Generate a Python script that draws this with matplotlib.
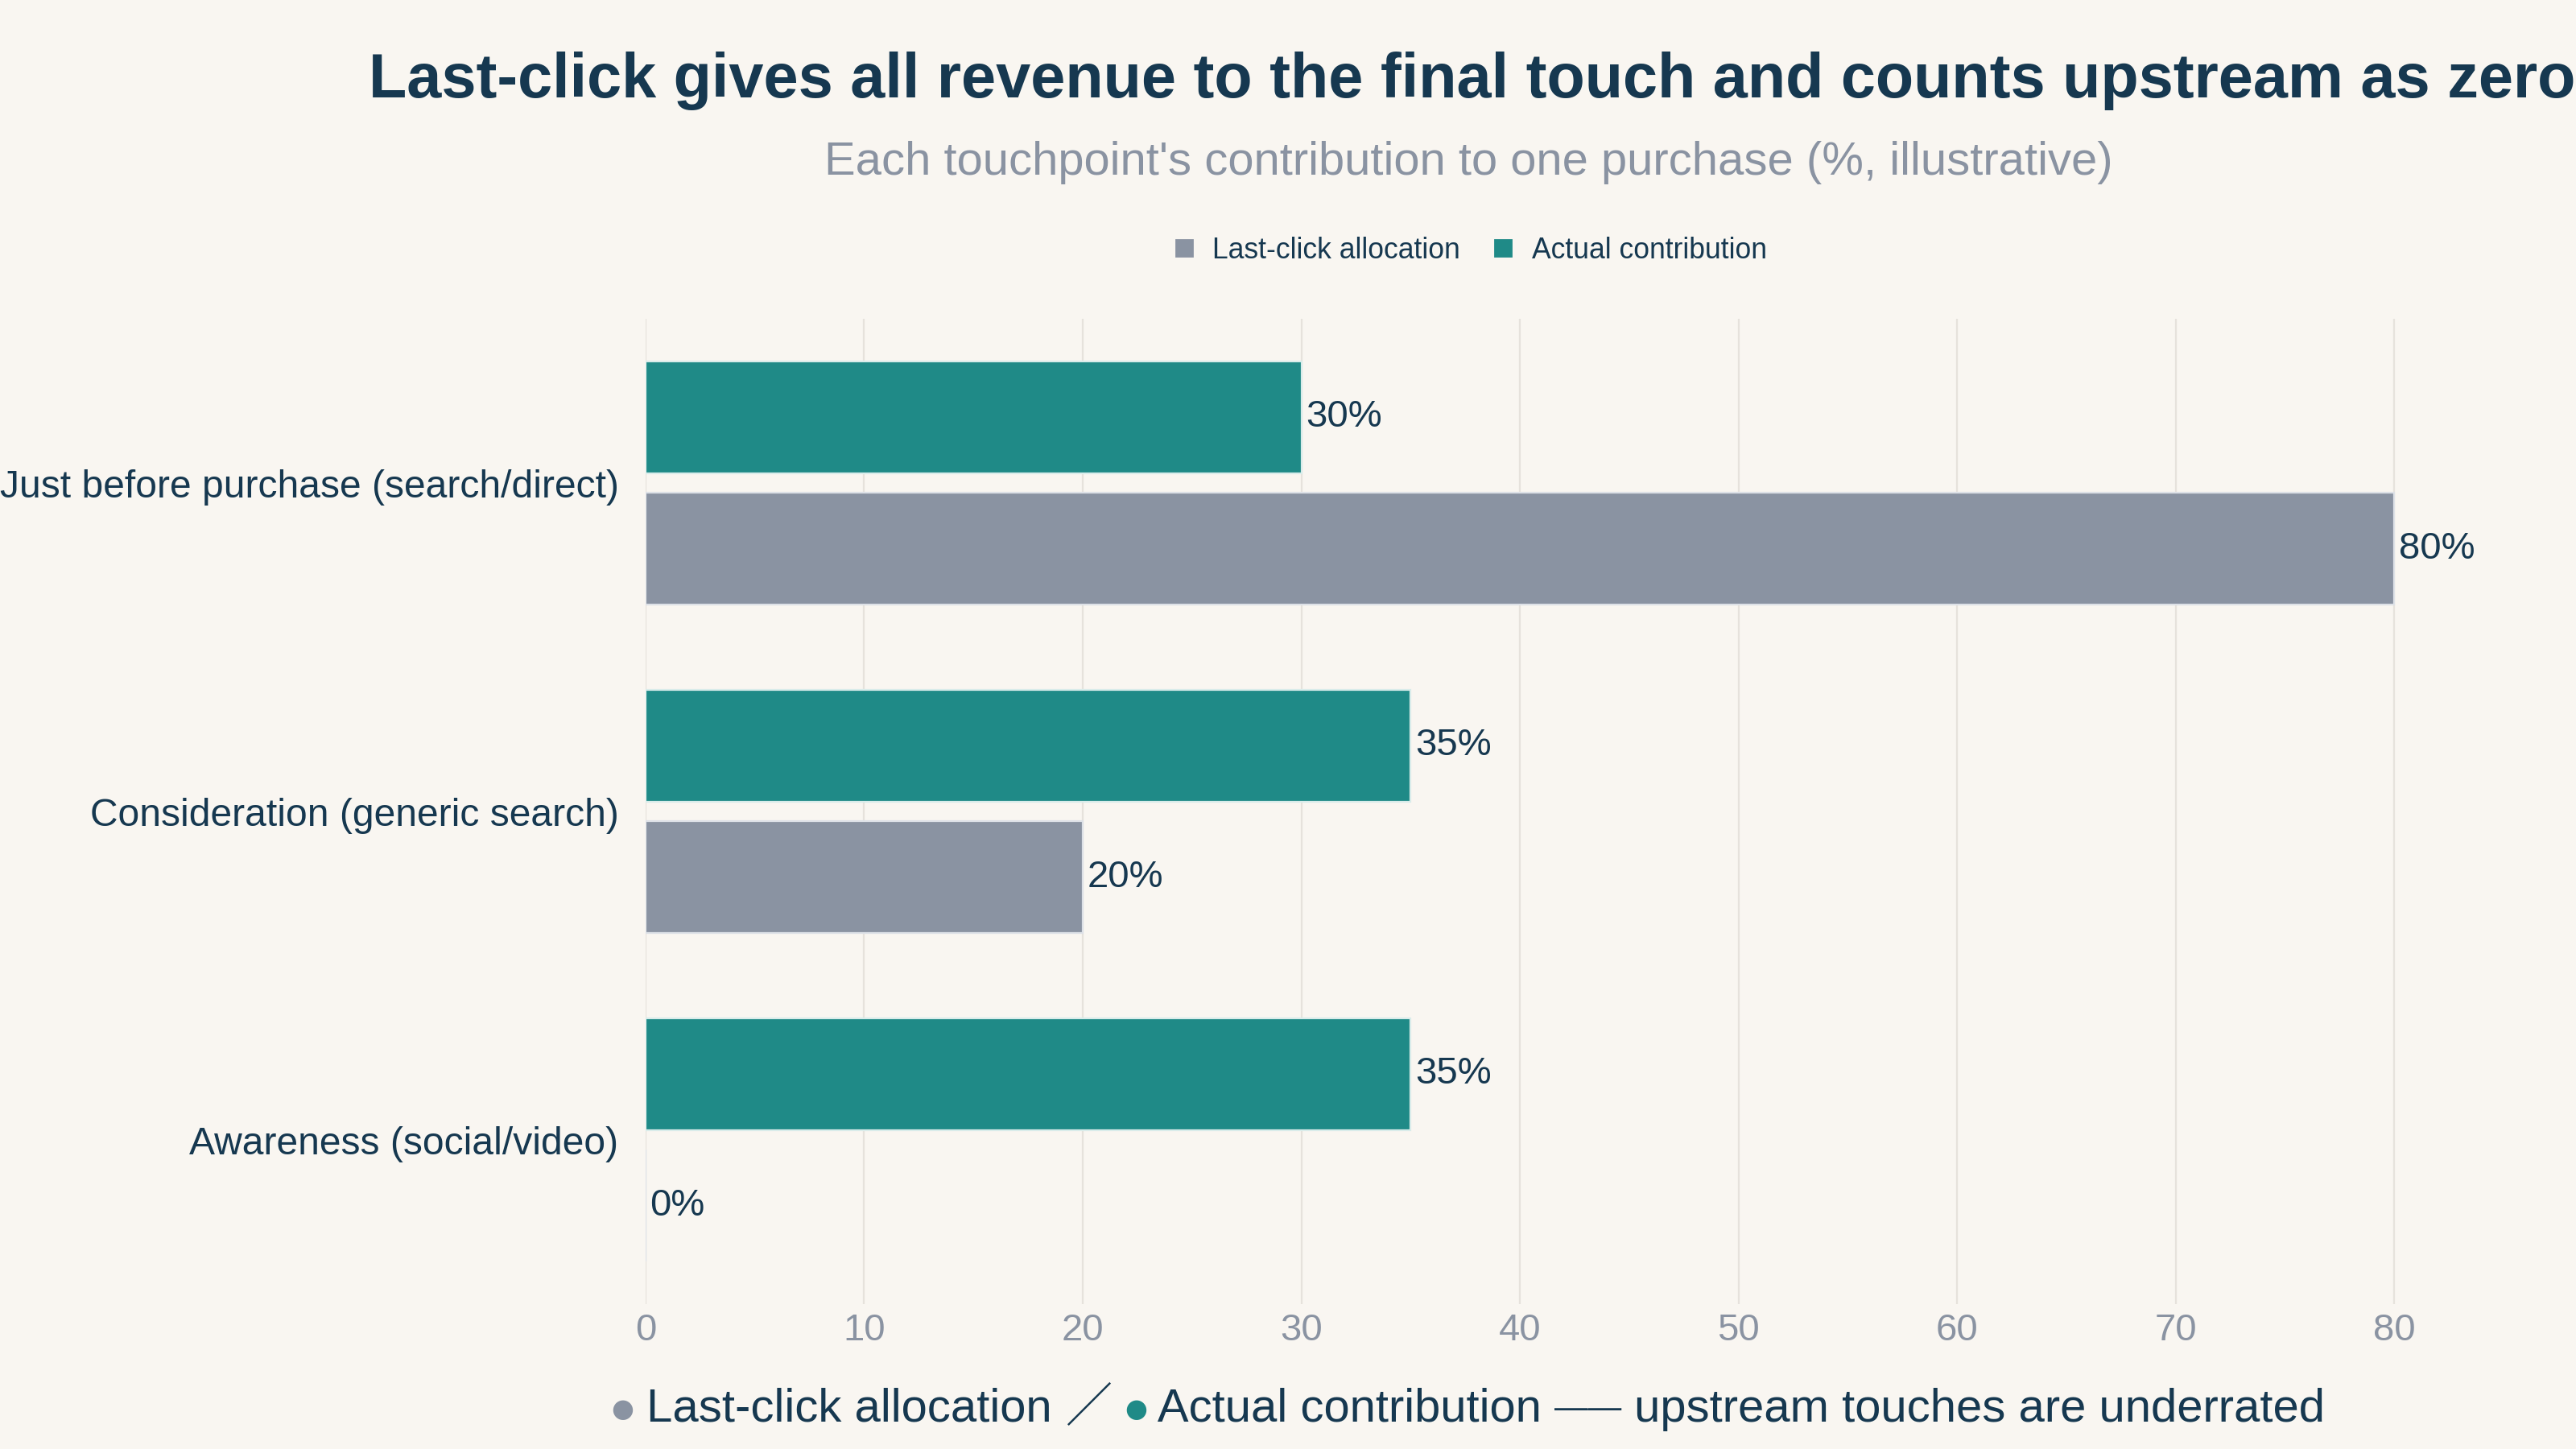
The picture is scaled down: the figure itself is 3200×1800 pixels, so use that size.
import matplotlib
matplotlib.use("Agg")
import matplotlib.pyplot as plt
import numpy as np
from matplotlib.lines import Line2D

# ============================================================
# 数据
# ============================================================
stages = ["Just before purchase (search/direct)",
          "Consideration (generic search)",
          "Awareness (social/video)"]
last_click = [80, 20, 0]
actual = [30, 35, 35]
x_ticks = [0, 10, 20, 30, 40, 50, 60, 70, 80]

TITLE = "Last-click gives all revenue to the final touch and counts upstream as zero"
SUBTITLE = "Each touchpoint's contribution to one purchase (%, illustrative)"

# ============================================================
# 样式
# ============================================================
BG = "#f9f6f1"
NAVY = "#163850"
GREY = "#8a93a2"
TEAL = "#1f8a87"
GRID = "#e6e2dc"
FONT = ["Liberation Sans", "DejaVu Sans"]

plt.rcParams["font.family"] = FONT

fig = plt.figure(figsize=(16, 9), dpi=200, facecolor=BG)
ax = fig.add_axes([0.2506, 0.10, 0.7128, 0.68], facecolor=BG)

y = np.arange(len(stages))
bar_h = 0.34
off = 0.2

b_act = ax.barh(y - off, actual, height=bar_h, color=TEAL,
                edgecolor="#d9ecea", linewidth=0.8, label="Actual contribution", zorder=3)
b_last = ax.barh(y + off, last_click, height=bar_h, color=GREY,
                 edgecolor="#dde1e7", linewidth=0.8, label="Last-click allocation", zorder=3)

for bars in (b_act, b_last):
    ax.bar_label(bars, labels=[f"{int(v)}%" for v in bars.datavalues],
                 padding=2, fontsize=17, color=NAVY)

ax.set_ylim(len(stages) - 0.5, -0.5)
ax.set_xlim(0, 84)
ax.set_yticks(y)
ax.set_yticklabels(stages, fontsize=17.3, color=NAVY)
ax.set_xticks(x_ticks)
ax.set_xticklabels([str(t) for t in x_ticks], fontsize=17, color=GREY)
ax.tick_params(axis="both", length=0)
ax.tick_params(axis="y", pad=12)
ax.tick_params(axis="x", pad=4)
ax.grid(axis="x", color=GRID, linewidth=0.8, zorder=0)
for s in ax.spines.values():
    s.set_visible(False)

# 标题
CX = 0.570
fig.text(0.5715, 0.944, TITLE, ha="center", va="center", fontsize=27.9,
         fontweight="bold", color=NAVY)
fig.text(CX, 0.888, SUBTITLE, ha="center", va="center", fontsize=20.9, color=GREY)

# 顶部图例
handles = [Line2D([], [], marker="s", linestyle="none", markersize=7.5, color=GREY),
           Line2D([], [], marker="s", linestyle="none", markersize=7.5, color=TEAL)]
fig.legend(handles, ["Last-click allocation", "Actual contribution"],
           loc="center", bbox_to_anchor=(CX, 0.827), ncol=2, frameon=False,
           fontsize=12.8, labelcolor=NAVY, handletextpad=0.5, columnspacing=1.0,
           handlelength=1.0)

# 底部注释（分段拼接，彩色圆点）
BASE_Y = 0.019
fam = ["Liberation Sans", "Noto Sans CJK SC", "DejaVu Sans"]
# (文字, 颜色, 字号, 字体, 垂直偏移)
pieces = [("●", GREY, 11.5, ["DejaVu Sans"], 0.0034),
          (" Last-click allocation ", NAVY, 20.9, fam, 0.0),
          ("／", NAVY, 20.9, fam, 0.0),
          (" ", NAVY, 20.9, fam, 0.0),
          ("●", TEAL, 11.5, ["DejaVu Sans"], 0.0034),
          (" Actual contribution ", NAVY, 20.9, fam, 0.0),
          ("——", NAVY, 15, fam, 0.0025),
          (" upstream touches are underrated", NAVY, 20.9, fam, 0.0)]
texts = []
for s, c, fs, f, dy in pieces:
    t = fig.text(0, BASE_Y + dy, s, ha="left", va="baseline", fontsize=fs,
                 color=c, family=f)
    texts.append((t, dy))

fig.canvas.draw()
r = fig.canvas.get_renderer()
widths = [t.get_window_extent(r).width for t, _ in texts]
total = sum(widths)
cur = CX * fig.bbox.width - total / 2
for (t, dy), w in zip(texts, widths):
    t.set_position((cur / fig.bbox.width, BASE_Y + dy))
    cur += w

fig.savefig("out.png", dpi=200, facecolor=BG)
